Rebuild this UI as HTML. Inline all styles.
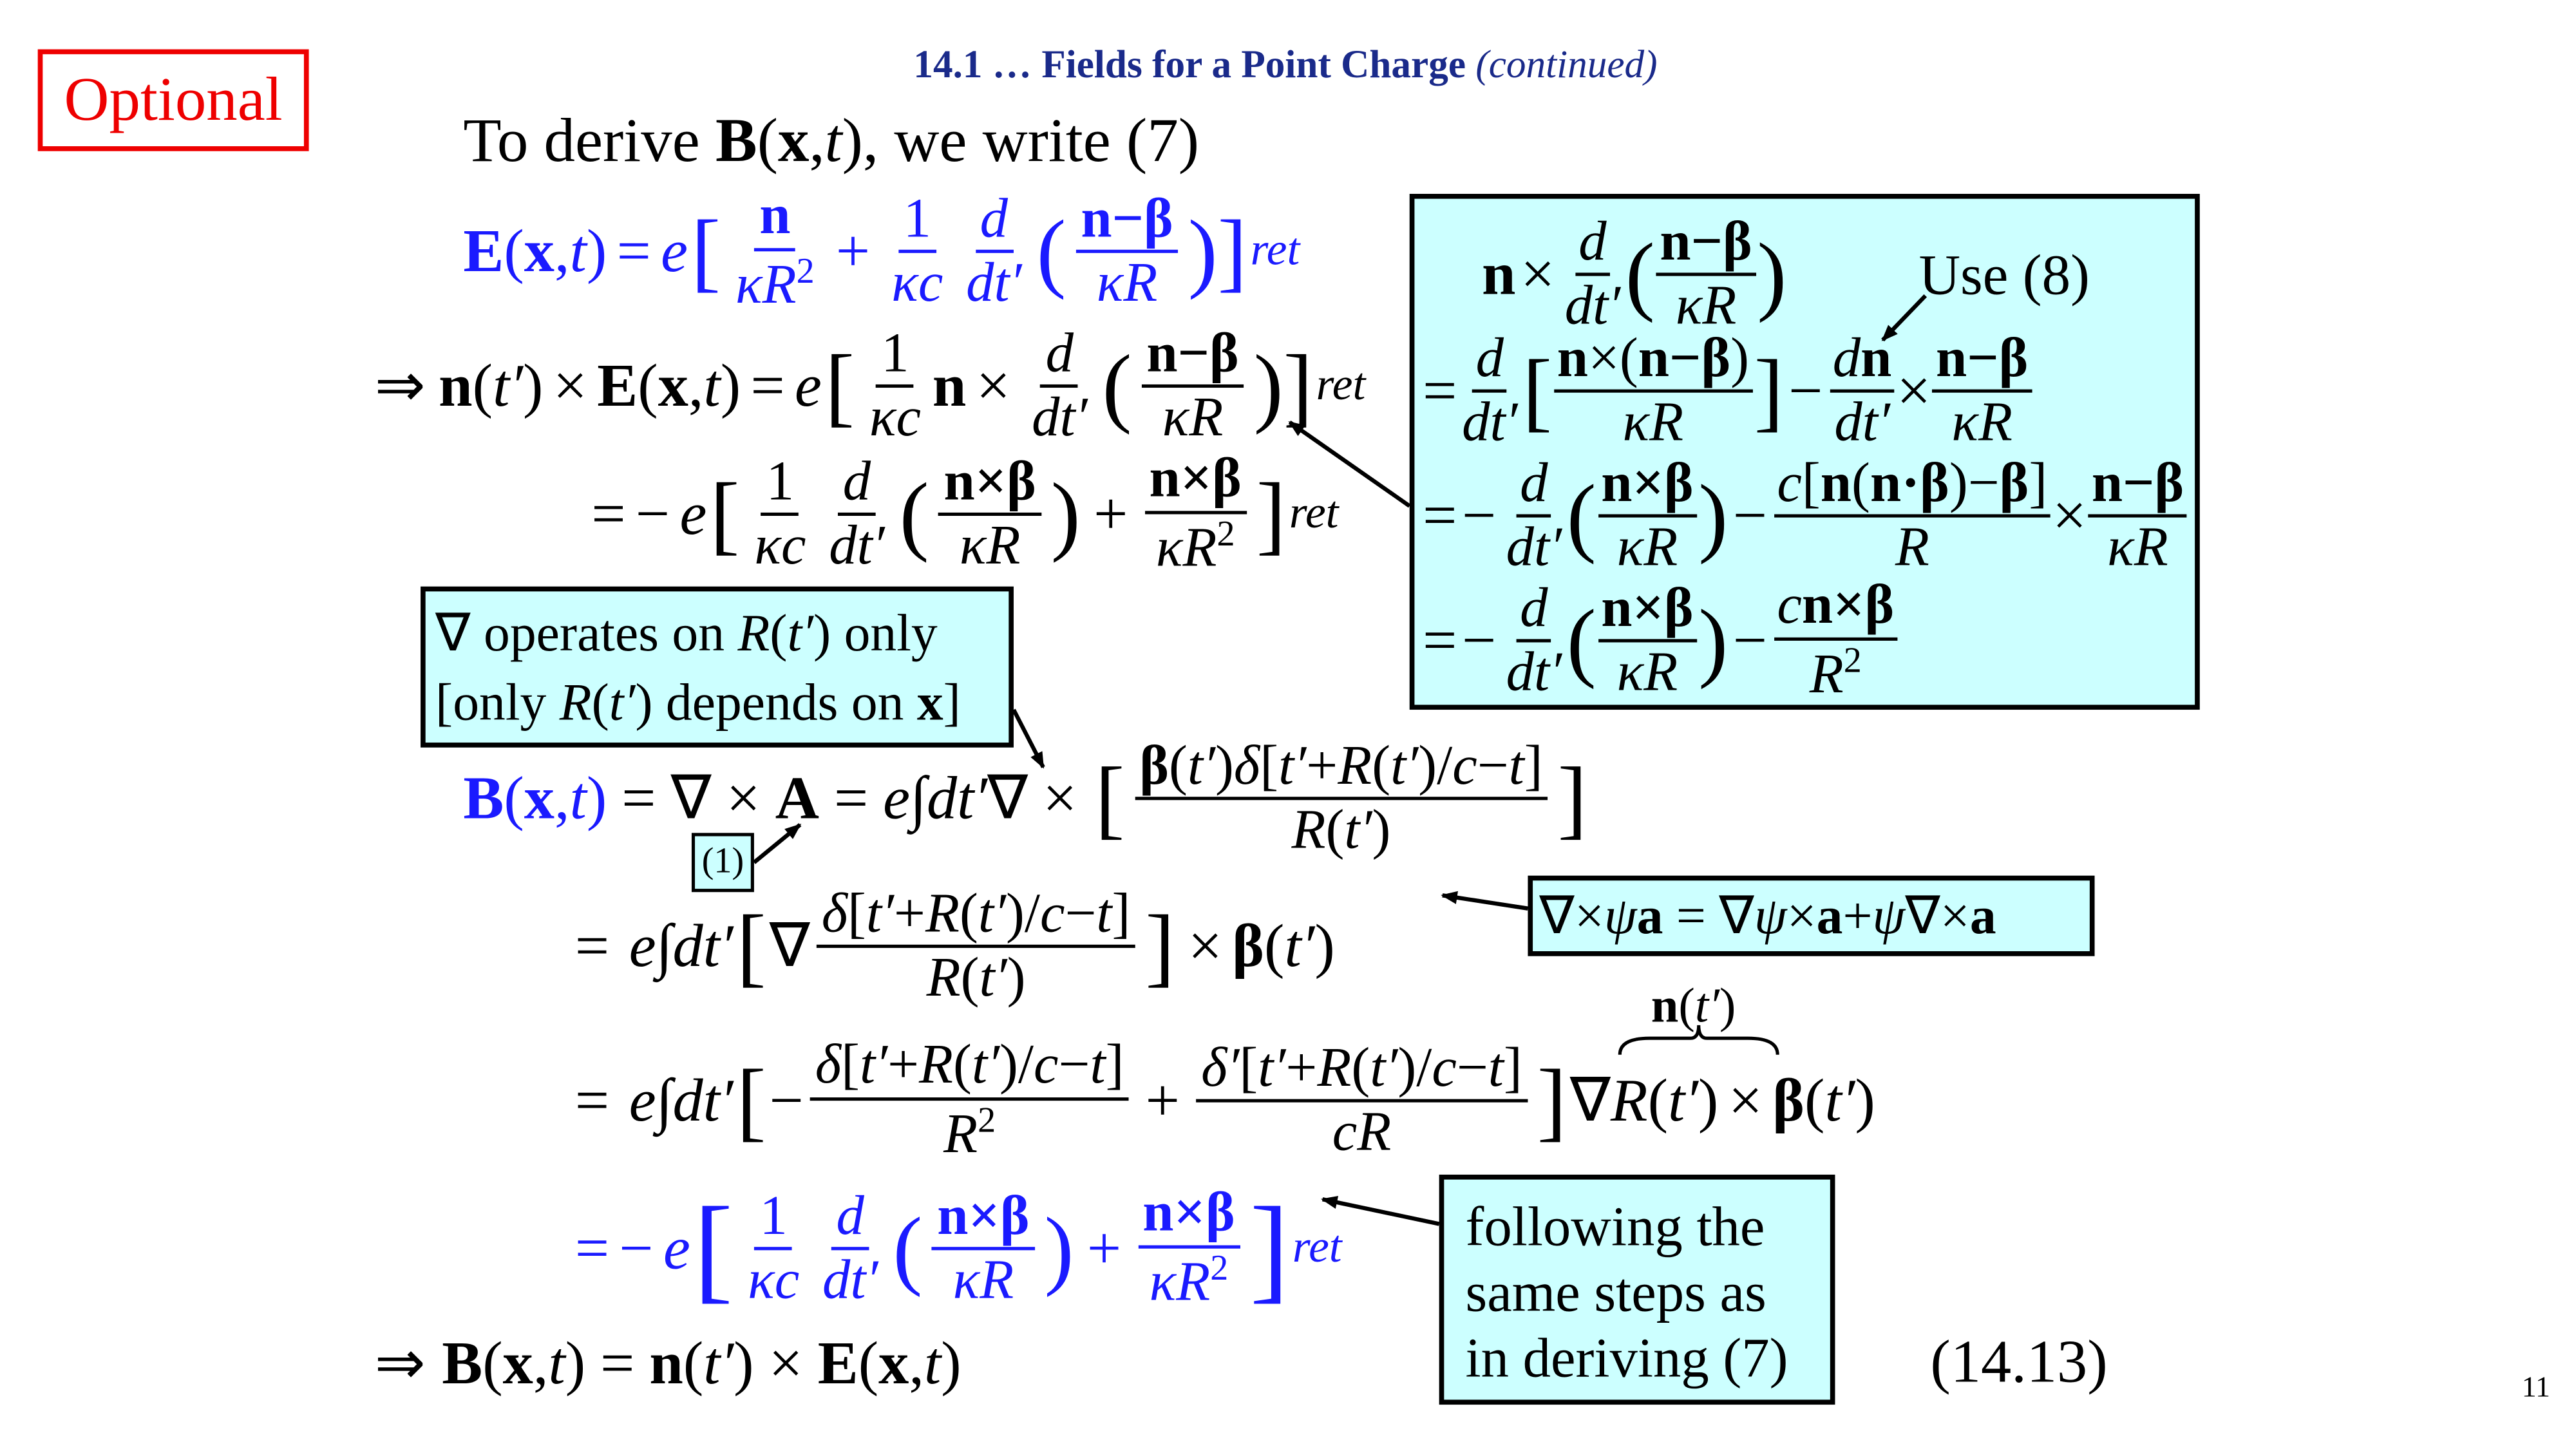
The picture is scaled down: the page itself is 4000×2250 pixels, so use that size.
<!DOCTYPE html>
<html><head><meta charset="utf-8"><style>
html,body{margin:0;padding:0;background:#fff;}
#wrap{width:4000px;height:2250px;overflow:hidden;position:relative;background:#fff;}
#s{position:absolute;left:0;top:0;width:1568px;height:882px;transform:scale(2.551);transform-origin:0 0;font-family:"Liberation Serif",serif;color:#000;}
.a{position:absolute;white-space:nowrap;}
.ln{position:absolute;white-space:nowrap;font-size:37px;display:flex;align-items:center;}
.f{display:inline-flex;flex-direction:column;align-items:center;vertical-align:middle;margin:0 4px;}
.f>span{display:block;line-height:1.1;padding:0 3px;}
.f>span:first-child{border-bottom:2px solid currentColor;}
.s{font-size:34px}
i{font-style:italic}
b{font-weight:bold}
.o{margin:0 6px}
.big{font-size:54px;line-height:1;margin:0 2px}
.blue{color:#1a1aff}
.box{position:absolute;background:#ccffff;border:3px solid #000;box-sizing:border-box;}
sub{font-size:28px;font-style:italic;vertical-align:-12px}
sup{font-size:22px}
.t .o{margin:0 3px}
.t .f{margin:0 1px}
.t .f>span{padding:0 2px}
.t .big{margin:0}
.w .o{margin:0 9px}
</style></head><body><div id="wrap"><div id="s">
<div class="a" style="left:23px;top:30px;width:165px;height:62px;border:3px solid #e00;box-sizing:border-box;color:#e00;font-size:38px;text-align:center;line-height:56px;">Optional</div>
<div class="a" style="left:556px;top:27px;font-size:24px;color:#1a2a8a;font-weight:bold;">14.1 … Fields for a Point Charge <span style="font-weight:normal;font-style:italic">(continued)</span></div>
<div class="a" style="left:282px;top:64px;font-size:38px;">To derive <b>B</b>(<b>x</b>,<i>t</i>), we write (7)</div>

<div class="ln blue" style="left:282px;top:108px;height:90px"><b>E</b>(<b>x</b>,<i>t</i>)<span class="o">=</span><i>e</i><span class="big">[</span><span class="f s"><span><b>n</b></span><span><i>κR</i><sup>2</sup></span></span><span class="o">+</span><span class="f s"><span>1</span><span><i>κc</i></span></span><span class="f s"><span><i>d</i></span><span><i>dt′</i></span></span><span class="big">(</span><span class="f s"><span><b>n−β</b></span><span><i>κR</i></span></span><span class="big">)]</span><sub>ret</sub></div>

<div class="ln" style="left:228px;top:190px;height:90px">⇒<span style="margin-left:8px"></span><b>n</b>(<i>t′</i>)<span class="o">×</span><b>E</b>(<b>x</b>,<i>t</i>)<span class="o">=</span><i>e</i><span class="big">[</span><span class="f s"><span>1</span><span><i>κc</i></span></span><b>n</b><span class="o">×</span><span class="f s"><span><i>d</i></span><span><i>dt′</i></span></span><span class="big">(</span><span class="f s"><span><b>n−β</b></span><span><i>κR</i></span></span><span class="big">)]</span><sub>ret</sub></div>

<div class="ln" style="left:360px;top:268px;height:90px">=<span class="o">−</span><i>e</i><span class="big">[</span><span class="f s"><span>1</span><span><i>κc</i></span></span><span class="f s"><span><i>d</i></span><span><i>dt′</i></span></span><span class="big">(</span><span class="f s"><span><b>n×β</b></span><span><i>κR</i></span></span><span class="big">)</span><span class="o">+</span><span class="f s"><span><b>n×β</b></span><span><i>κR</i><sup>2</sup></span></span><span class="big">]</span><sub>ret</sub></div>

<div class="box" style="left:256px;top:357px;width:361px;height:98px;font-size:32px;line-height:42px;padding:4px 6px;">∇ operates on <i>R</i>(<i>t′</i>) only<br>[only <i>R</i>(<i>t′</i>) depends on <b>x</b>]</div>

<div class="ln w" style="left:282px;top:440px;height:92px"><span class="blue"><b>B</b>(<b>x</b>,<i>t</i>)</span><span class="o">=</span>∇<span class="o">×</span><b>A</b><span class="o">=</span><i>e</i>∫<i>dt′</i>∇<span class="o">×</span><span class="big">[</span><span class="f s"><span><b>β</b>(<i>t′</i>)<i>δ</i>[<i>t′</i>+<i>R</i>(<i>t′</i>)/<i>c</i>−<i>t</i>]</span><span><i>R</i>(<i>t′</i>)</span></span><span class="big">]</span></div>
<div class="box" style="left:421px;top:507px;width:38px;height:36px;font-size:22px;text-align:center;line-height:30px;border-width:2px;">(1)</div>

<div class="ln" style="left:350px;top:532px;height:88px">=<span class="o"></span><i>e</i>∫<i>dt′</i><span class="big">[</span>∇<span class="f s"><span><i>δ</i>[<i>t′</i>+<i>R</i>(<i>t′</i>)/<i>c</i>−<i>t</i>]</span><span><i>R</i>(<i>t′</i>)</span></span><span class="big">]</span><span class="o">×</span><b>β</b>(<i>t′</i>)</div>
<div class="box" style="left:930px;top:533px;width:345px;height:49px;font-size:32px;line-height:42px;padding-left:4px;">∇×<i>ψ</i><b>a</b> = ∇<i>ψ</i>×<b>a</b>+<i>ψ</i>∇×<b>a</b></div>

<div class="a" style="left:1005px;top:596px;font-size:30px;"><b>n</b>(<i>t′</i>)</div>
<svg class="a" style="left:984px;top:622px" width="100" height="22"><path d="M2 20 Q2 10 20 10 L45 10 Q50 10 50 2 Q50 10 55 10 L80 10 Q98 10 98 20" fill="none" stroke="#000" stroke-width="2"/></svg>
<div class="ln" style="left:350px;top:626px;height:88px">=<span class="o"></span><i>e</i>∫<i>dt′</i><span class="big">[</span>−<span class="f s"><span><i>δ</i>[<i>t′</i>+<i>R</i>(<i>t′</i>)/<i>c</i>−<i>t</i>]</span><span><i>R</i><sup>2</sup></span></span><span class="o">+</span><span class="f s"><span><i>δ′</i>[<i>t′</i>+<i>R</i>(<i>t′</i>)/<i>c</i>−<i>t</i>]</span><span><i>cR</i></span></span><span class="big">]</span>∇<i>R</i>(<i>t′</i>)<span class="o">×</span><b>β</b>(<i>t′</i>)</div>

<div class="ln blue" style="left:350px;top:715px;height:90px">=<span class="o">−</span><i>e</i><span class="big" style="font-size:72px">[</span><span class="f s"><span>1</span><span><i>κc</i></span></span><span class="f s"><span><i>d</i></span><span><i>dt′</i></span></span><span class="big">(</span><span class="f s"><span><b>n×β</b></span><span><i>κR</i></span></span><span class="big">)</span><span class="o">+</span><span class="f s"><span><b>n×β</b></span><span><i>κR</i><sup>2</sup></span></span><span class="big" style="font-size:72px">]</span><sub>ret</sub></div>
<div class="box" style="left:876px;top:715px;width:241px;height:140px;font-size:34px;line-height:40px;padding:10px 0 0 13px;">following the<br>same steps as<br>in deriving (7)</div>

<div class="ln w" style="left:228px;top:808px;height:44px">⇒<span style="margin-left:10px"></span><b>B</b>(<b>x</b>,<i>t</i>)<span class="o">=</span><b>n</b>(<i>t′</i>)<span class="o">×</span><b>E</b>(<b>x</b>,<i>t</i>)</div>
<div class="a" style="left:1175px;top:808px;font-size:37px;">(14.13)</div>
<div class="a" style="left:1535px;top:834px;font-size:18px;">11</div>

<div class="box" style="left:858px;top:118px;width:481px;height:314px;"></div>
<div class="ln t" style="left:902px;top:130px;height:74px"><b>n</b><span class="o">×</span><span class="f s"><span><i>d</i></span><span><i>dt′</i></span></span><span class="big">(</span><span class="f s"><span><b>n−β</b></span><span><i>κR</i></span></span><span class="big">)</span></div>
<div class="a" style="left:1168px;top:148px;font-size:35px;">Use (8)</div>
<div class="ln t" style="left:866px;top:200px;height:76px">=<span class="f s"><span><i>d</i></span><span><i>dt′</i></span></span><span class="big">[</span><span class="f s"><span><b>n</b>×(<b>n−β</b>)</span><span><i>κR</i></span></span><span class="big">]</span><span class="o">−</span><span class="f s"><span><i>d</i><b>n</b></span><span><i>dt′</i></span></span>×<span class="f s"><span><b>n−β</b></span><span><i>κR</i></span></span></div>
<div class="ln t" style="left:866px;top:276px;height:76px">=<span class="o">−</span><span class="f s"><span><i>d</i></span><span><i>dt′</i></span></span><span class="big">(</span><span class="f s"><span><b>n×β</b></span><span><i>κR</i></span></span><span class="big">)</span><span class="o">−</span><span class="f s"><span><i>c</i>[<b>n</b>(<b>n·β</b>)−<b>β</b>]</span><span><i>R</i></span></span>×<span class="f s"><span><b>n−β</b></span><span><i>κR</i></span></span></div>
<div class="ln t" style="left:866px;top:352px;height:76px">=<span class="o">−</span><span class="f s"><span><i>d</i></span><span><i>dt′</i></span></span><span class="big">(</span><span class="f s"><span><b>n×β</b></span><span><i>κR</i></span></span><span class="big">)</span><span class="o">−</span><span class="f s"><span><i>c</i><b>n×β</b></span><span><i>R</i><sup>2</sup></span></span></div>

<svg class="a" style="left:0;top:0" width="1568" height="882">
<defs><marker id="m" markerWidth="10" markerHeight="10" refX="9" refY="5" orient="auto" markerUnits="userSpaceOnUse"><path d="M0 1 L10 5 L0 9 Z" fill="#000"/></marker></defs>
<g stroke="#000" stroke-width="2.5" fill="none" marker-end="url(#m)">
<line x1="858" y1="308" x2="785" y2="257"/>
<line x1="1172" y1="180" x2="1146" y2="207"/>
<line x1="617" y1="432" x2="635" y2="467"/>
<line x1="459" y1="525" x2="487" y2="502"/>
<line x1="930" y1="553" x2="878" y2="545"/>
<line x1="876" y1="745" x2="805" y2="730"/>
</g></svg>
</div></div></body></html>
